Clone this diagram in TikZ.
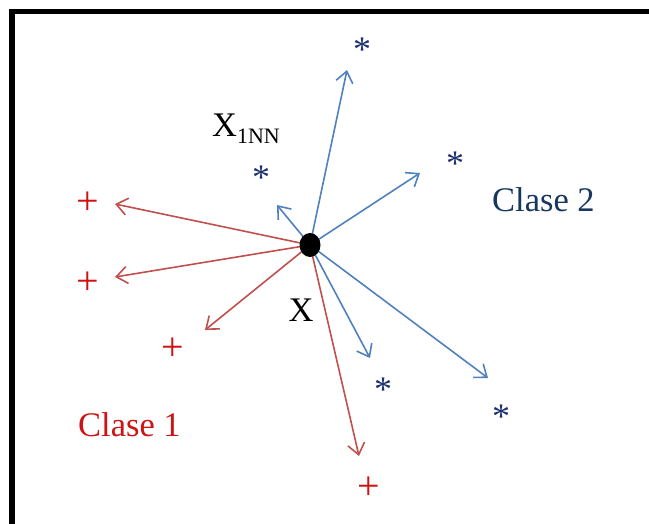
\documentclass[tikz,border=0pt]{standalone}
\usepackage{fontspec}
\setmainfont{Liberation Serif}
\usetikzlibrary{arrows.meta,shapes.geometric,backgrounds}
\definecolor{arrowblue}{RGB}{79,129,189}
\definecolor{arrowred}{RGB}{192,80,77}
\definecolor{starblue}{RGB}{28,48,110}
\definecolor{clasetwo}{RGB}{23,55,94}
\definecolor{plusred}{RGB}{205,20,20}
\tikzset{
  bluearrow/.style={draw=arrowblue, line width=1.6pt, -{Straight Barb[length=11pt,width=17pt,line width=1.6pt]}},
  redarrow/.style={draw=arrowred, line width=1.6pt, -{Straight Barb[length=11pt,width=17pt,line width=1.6pt]}},
  starnode/.style={font=\fontsize{36}{36}\selectfont, text=starblue, inner sep=0pt, anchor=base},
  plusnode/.style={font=\fontsize{40}{40}\selectfont, text=plusred, inner sep=0pt, anchor=base},
  labeltext/.style={font=\fontsize{34.5}{34.5}\selectfont, inner sep=0pt},
}
\begin{document}
\begin{tikzpicture}[x=1pt,y=-1pt]
\clip (0,0) rectangle (649,523);
\draw[line width=5.5pt] (12,11.5) rectangle (700,600);
% data points
\node[starnode] (s1) at (362,61) {*};
\node[starnode] (s2) at (261,189) {*};
\node[starnode] (s3) at (455,175) {*};
\node[starnode] (s4) at (383,401) {*};
\node[starnode] (s5) at (501,428) {*};
\node[plusnode] (p1) at (88,214) {+};
\node[plusnode] (p2) at (88,294) {+};
\node[plusnode] (p3) at (173,360) {+};
\node[plusnode] (p4) at (369,499) {+};
% labels
\node[labeltext, anchor=base west, text=clasetwo] (c2) at (492,211) {Clase 2};
\node[labeltext, anchor=base west, text=plusred] (c1) at (78,436) {Clase 1};
\node[labeltext, anchor=base west] (x1nn) at (212,136) {X\raisebox{-7pt}{\fontsize{22}{22}\selectfont 1NN}};
\node[labeltext, anchor=base] (xl) at (301,321) {X};
% query point
\node[ellipse, fill=black, minimum width=21pt, minimum height=24pt, inner sep=0pt] (x) at (310,245) {};
% arrow tips
\coordinate (b1) at (347,70);
\coordinate (b2) at (420,173);
\coordinate (b3) at (277,205);
\coordinate (b4) at (370,358);
\coordinate (b5) at (488,378);
\coordinate (r1) at (115,204);
\coordinate (r2) at (115,277);
\coordinate (r3) at (205,330);
\coordinate (r4) at (359,456);
\begin{pgfonlayer}{background}
\foreach \t in {b1,b2,b3,b4,b5} \draw[bluearrow] (x.center) -- (\t);
\foreach \t in {r1,r2,r3,r4} \draw[redarrow] (x.center) -- (\t);
\end{pgfonlayer}
\end{tikzpicture}
\end{document}
